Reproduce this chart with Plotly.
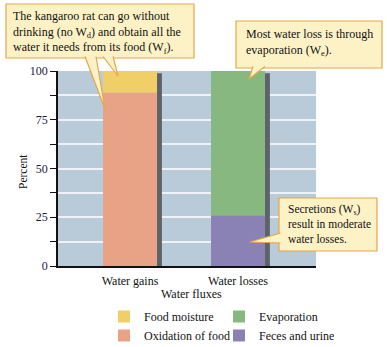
import plotly.graph_objects as go

# ---- data ----
categories = ["Water gains", "Water losses"]
cat_pos = [0, 1]
food_moisture = [11, 0]
oxidation_food = [89, 0]
evaporation = [0, 74]
feces_urine = [0, 26]
y_tick_labels = ["0", "", "25", "", "50", "", "75", "", "100"]
y_tick_vals = [0, 12.5, 25, 37.5, 50, 62.5, 75, 87.5, 100]

# ---- layout geometry (pixels) ----
W_FIG, H_FIG = 387, 347
L, R, T, B = 58, 316, 71, 266
PW, PH = R - L, B - T


def px(xp):
    return (xp - L) / PW


def py(yp):
    return (B - yp) / PH


FONT = "Liberation Serif"
C_FOOD = "#f0cf68"
C_OXID = "#e8a286"
C_EVAP = "#86b880"
C_FECES = "#8a82b4"
C_BG = "#b9cad9"
C_SHADOW = "#5d6168"
BOX_FILL = "#fdf1c6"
BOX_LINE = "#e3a84a"

fig = go.Figure()

bw = 0.5
totals = [a + b for a, b in zip(food_moisture, oxidation_food)]
totals = [t + e + f for t, e, f in zip(totals, evaporation, feces_urine)]

# shadow strips on the right of each bar
fig.add_trace(go.Bar(x=cat_pos, y=[t - 1.2 for t in totals], width=0.045, offset=bw / 2,
                     marker=dict(color=C_SHADOW, line=dict(width=0)),
                     showlegend=False, hoverinfo="skip"))

fig.add_trace(go.Bar(name="Oxidation of food", x=cat_pos, y=oxidation_food, width=bw,
                     offset=-bw / 2, marker=dict(color=C_OXID, line=dict(width=0)), legendrank=3))
fig.add_trace(go.Bar(name="Food moisture", x=cat_pos, y=food_moisture, base=oxidation_food,
                     width=bw, offset=-bw / 2, marker=dict(color=C_FOOD, line=dict(width=0)),
                     legendrank=1))
fig.add_trace(go.Bar(name="Feces and urine", x=cat_pos, y=feces_urine, width=bw,
                     offset=-bw / 2, marker=dict(color=C_FECES, line=dict(width=0)), legendrank=4))
fig.add_trace(go.Bar(name="Evaporation", x=cat_pos, y=evaporation, base=feces_urine,
                     width=bw, offset=-bw / 2, marker=dict(color=C_EVAP, line=dict(width=0)),
                     legendrank=2))

shapes = []
annotations = []


def box(x0, y0, x1, y1):
    shapes.append(dict(type="rect", xref="paper", yref="paper",
                       x0=px(x0), x1=px(x1), y0=py(y1), y1=py(y0),
                       fillcolor=BOX_FILL, line=dict(color=BOX_LINE, width=1.2), layer="above"))


def wedge(p1, tip, p2):
    path = "M {} {} L {} {} L {} {}".format(px(p1[0]), py(p1[1]), px(tip[0]), py(tip[1]),
                                              px(p2[0]), py(p2[1]))
    shapes.append(dict(type="path", xref="paper", yref="paper", path=path,
                       fillcolor=BOX_FILL, line=dict(color=BOX_LINE, width=1.2), layer="above"))


# callout 1
box(6, 4, 194, 58)
wedge((85, 56.5), (105, 109), (96, 56.5))
wedge((103, 56.5), (118, 76), (113, 56.5))
annotations.append(dict(xref="paper", yref="paper", x=px(11), y=py(32.5), xanchor="left",
                        yanchor="middle", align="left", showarrow=False,
                        font=dict(family=FONT, size=12, color="#111"),
                        text="The kangaroo rat can go without<br>drinking (no W<sub>d</sub>) and obtain all the"
                             "<br>water it needs from its food (W<sub>f</sub>)."))
# callout 2
box(236, 21, 382, 68)
wedge((253, 66.5), (249, 79), (265, 66.5))
annotations.append(dict(xref="paper", yref="paper", x=px(244), y=py(42), xanchor="left",
                        yanchor="middle", align="left", showarrow=False,
                        font=dict(family=FONT, size=12, color="#111"),
                        text="Most water loss is through<br>evaporation (W<sub>e</sub>)."))
# callout 3
box(279, 198, 377, 251)
wedge((280.5, 233), (250, 242), (280.5, 243))
annotations.append(dict(xref="paper", yref="paper", x=px(286), y=py(224), xanchor="left",
                        yanchor="middle", align="left", showarrow=False,
                        font=dict(family=FONT, size=11.5, color="#111"),
                        text="Secretions (W<sub>s</sub>)<br>result in moderate<br>water losses."))

# axis titles
annotations.append(dict(xref="paper", yref="paper", x=px(23), y=py(172), textangle=-90,
                        xanchor="center", yanchor="middle",
                        showarrow=False, font=dict(family=FONT, size=11.5, color="#111"),
                        text="Percent"))
annotations.append(dict(xref="paper", yref="paper", x=px(191), y=py(293.5),
                        xanchor="center", yanchor="middle", showarrow=False,
                        font=dict(family=FONT, size=12, color="#111"), text="Water fluxes"))

fig.update_layout(
    width=W_FIG, height=H_FIG,
    margin=dict(l=L, r=W_FIG - R, t=T, b=H_FIG - B, pad=0, autoexpand=False),
    barmode="overlay",
    paper_bgcolor="white",
    plot_bgcolor=C_BG,
    shapes=shapes,
    annotations=annotations,
    showlegend=True,
    legend=dict(orientation="h", x=px(104), xanchor="left", y=py(302), yanchor="top",
                entrywidth=70, entrywidthmode="pixels", traceorder="normal",
                font=dict(family=FONT, size=12, color="#111"), bgcolor="rgba(0,0,0,0)",
                itemclick=False, tracegroupgap=0),
    xaxis=dict(range=[-0.667, 1.722], tickmode="array", tickvals=cat_pos, ticktext=categories,
               showgrid=False, zeroline=False, showline=True, linecolor="#111", linewidth=1.5,
               ticks="", ticklabelstandoff=3,
               tickfont=dict(family=FONT, size=12, color="#111"), fixedrange=True),
    yaxis=dict(range=[0, 100], tickmode="array", tickvals=y_tick_vals, ticktext=y_tick_labels,
               showgrid=True, gridcolor="#eef2f6", gridwidth=1.5, zeroline=False,
               showline=True, linecolor="#111", linewidth=1.5, ticks="outside", ticklen=6,
               tickcolor="#111", tickwidth=1.2,
               tickfont=dict(family=FONT, size=12, color="#1a1a40"), fixedrange=True),
)

fig.write_html("out.html")
